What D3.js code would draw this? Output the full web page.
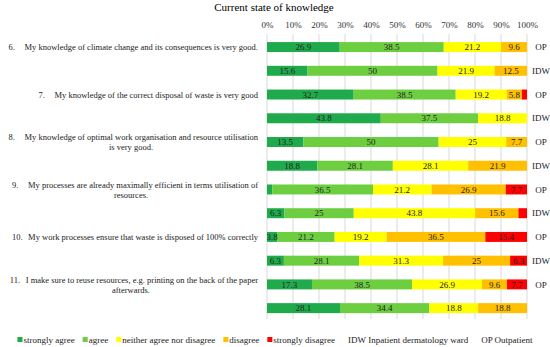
<!DOCTYPE html>
<html>
<head>
<meta charset="utf-8">
<script src="https://cdn.jsdelivr.net/npm/d3@7"></script>
<style>
  body { margin: 0; background: #fff; }
  svg { display: block; font-family: "Liberation Serif", "Times New Roman", serif; }
</style>
</head>
<body>
<svg id="chart" width="550" height="347"></svg>
<script>
// one entry per bar, item 6 OP, item 6 IDW, item 7 OP ...
const rowLabels = ["OP", "IDW", "OP", "IDW", "OP", "IDW", "OP", "IDW", "OP", "IDW", "OP", ""];
const stronglyAgree = [26.9, 15.6, 32.7, 43.8, 13.5, 18.8, 1.9, 6.3, 3.8, 6.3, 17.3, 28.1];
const agree = [38.5, 50, 38.5, 37.5, 50, 28.1, 36.5, 25, 21.2, 28.1, 38.5, 34.4];
const neither = [21.2, 21.9, 19.2, 18.8, 25, 28.1, 21.2, 43.8, 19.2, 31.3, 26.9, 18.8];
const disagree = [9.6, 12.5, 5.8, 0, 7.7, 21.9, 26.9, 15.6, 36.5, 25, 9.6, 18.8];
const stronglyDisagree = [0, 0, 1.9, 0, 0, 0, 7.7, 3.1, 15.4, 6.3, 7.7, 0];

const categories = ["strongly agree", "agree", "neither agree nor disagree", "disagree", "strongly disagree"];
const colors = ["#1faa4b", "#6dce40", "#ffff00", "#ffc000", "#ff0000"];
const xTicks = [0, .1, .2, .3, .4, .5, .6, .7, .8, .9, 1];

const questions = [
  { num: "6.", lines: ["My knowledge of climate change and its consequences is very good."] },
  { num: "7.", lines: ["My knowledge of the correct disposal of waste is very good"] },
  { num: "8.", lines: ["My knowledge of optimal work organisation and resource utilisation", "is very good."] },
  { num: "9.", lines: ["My processes are already maximally efficient in terms utilisation of", "resources."] },
  { num: "10.", lines: ["My work processes ensure that waste is disposed of 100% correctly"] },
  { num: "11.", lines: ["I make sure to reuse resources, e.g. printing on the back of the paper", "afterwards."] }
];
const legendExtra = ["IDW Inpatient dermatology ward", "OP Outpatient"];

const svg = d3.select("#chart");

const rows = rowLabels.map((lab, i) => ({
  id: i, label: lab,
  "strongly agree": stronglyAgree[i],
  "agree": agree[i],
  "neither agree nor disagree": neither[i],
  "disagree": disagree[i],
  "strongly disagree": stronglyDisagree[i]
}));

const series = d3.stack().keys(categories).offset(d3.stackOffsetExpand)(rows);

const x = d3.scaleLinear().domain([0, 1]).range([267, 527]);
const y = d3.scaleBand().domain(d3.range(rows.length)).range([35.2, 320]).paddingInner(0.58).paddingOuter(0.29);
const color = d3.scaleOrdinal().domain(categories).range(colors);

// title
svg.append("text")
  .attr("x", 274).attr("y", 11)
  .attr("text-anchor", "middle")
  .style("font-size", "11px")
  .text("Current state of knowledge");

// grid
svg.append("g").selectAll("line")
  .data(xTicks)
  .join("line")
  .attr("x1", d => x(d)).attr("x2", d => x(d))
  .attr("y1", 34).attr("y2", 319)
  .attr("stroke", "#d9d9d9").attr("stroke-width", 1);

// axis on top
const axis = svg.append("g")
  .attr("transform", "translate(0,28)")
  .call(d3.axisTop(x).tickValues(xTicks).tickFormat(d3.format(".0%")).tickSize(0).tickPadding(0));
axis.select(".domain").remove();
axis.selectAll("text").style("font-size", "9px").style("font-family", "Liberation Serif").attr("fill", "#333");

// bars
const layer = svg.append("g").selectAll("g")
  .data(series)
  .join("g")
  .attr("fill", d => color(d.key));

layer.selectAll("rect")
  .data(d => d)
  .join("rect")
  .attr("x", d => x(d[0]))
  .attr("width", d => x(d[1]) - x(d[0]))
  .attr("y", (d, i) => y(i))
  .attr("height", y.bandwidth());

// value labels
svg.append("g").selectAll("g")
  .data(series)
  .join("g")
  .selectAll("text")
  .data(s => s.map((d, i) => ({ d, i, v: d.data[s.key] })).filter(o => o.v >= 3.5))
  .join("text")
  .attr("x", o => (x(o.d[0]) + x(o.d[1])) / 2)
  .attr("y", o => y(o.i) + y.bandwidth() / 2)
  .attr("dy", "0.35em")
  .attr("text-anchor", "middle")
  .style("font-size", "9px")
  .attr("fill", "#222")
  .text(o => o.v);

// OP / IDW labels
svg.append("g").selectAll("text")
  .data(rows)
  .join("text")
  .attr("x", 541)
  .attr("y", (d, i) => y(i) + y.bandwidth() / 2)
  .attr("dy", "0.35em")
  .attr("text-anchor", "middle")
  .style("font-size", "9px")
  .attr("fill", "#222")
  .text(d => d.label);

// question labels on the left
const qg = svg.append("g").attr("fill", "#222").style("font-size", "8.5px");
questions.forEach((q, qi) => {
  const cy = y(qi * 2) + y.bandwidth() / 2;
  const two = q.lines.length > 1;
  const first = qg.append("text")
    .attr("x", 258)
    .attr("y", two ? cy - 4.5 : cy)
    .attr("dy", "0.35em")
    .attr("text-anchor", "end")
    .text(q.lines[0]);
  const start = 258 - first.node().getComputedTextLength();
  qg.append("text")
    .attr("x", Math.max(6, start - 16))
    .attr("y", two ? cy - 4.5 : cy)
    .attr("dy", "0.35em")
    .text(q.num);
  if (two) {
    qg.append("text")
      .attr("x", 131)
      .attr("y", cy + 5.5)
      .attr("dy", "0.35em")
      .attr("text-anchor", "middle")
      .text(q.lines[1]);
  }
});

// legend
const legend = svg.append("g").style("font-size", "9px").attr("fill", "#222");
let lx = 0;
const ly = 340;
categories.forEach((c, i) => {
  legend.append("rect")
    .attr("x", lx).attr("y", ly - 3).attr("width", 5).attr("height", 5)
    .attr("fill", color(c));
  const t = legend.append("text")
    .attr("x", lx + 6).attr("y", ly).attr("dy", "0.3em")
    .text(c);
  lx += 6 + t.node().getComputedTextLength() + (i === categories.length - 1 ? 13 : 8);
});
legendExtra.forEach((c, i) => {
  const t = legend.append("text")
    .attr("x", lx).attr("y", ly).attr("dy", "0.3em")
    .text(c);
  lx += t.node().getComputedTextLength() + (i === legendExtra.length - 1 ? 0 : 13);
});
legend.attr("transform", `translate(${275 - lx / 2},0)`);
</script>
</body>
</html>
